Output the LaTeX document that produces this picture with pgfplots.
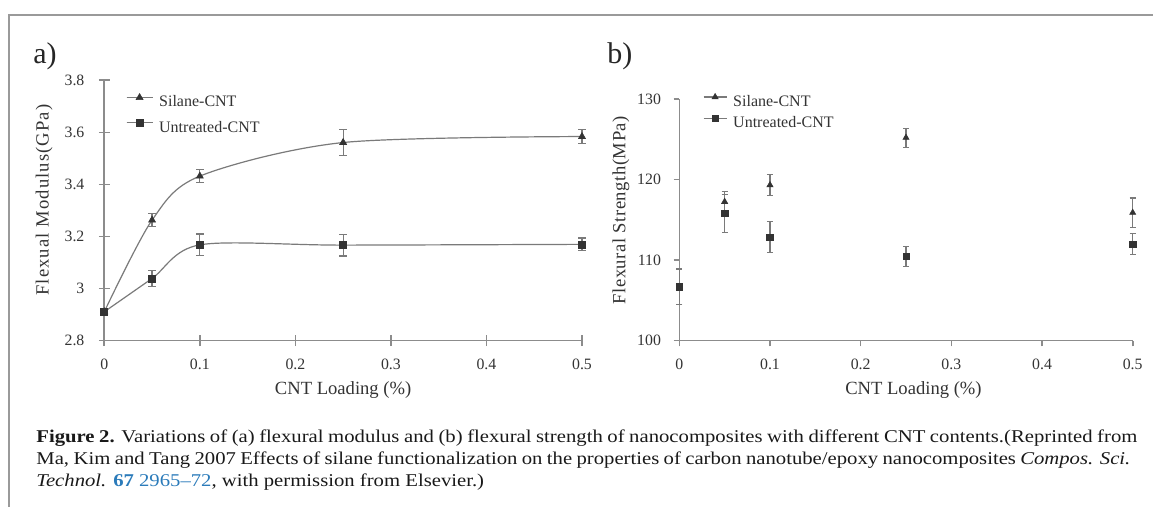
\documentclass[border=0pt]{standalone}
\usepackage{fontspec}
\setmainfont{Liberation Serif}
\newfontfamily\capfont[FakeStretch=1.15, Ligatures=TeX]{Liberation Serif}
\usepackage{pgfplots}
\usepackage{pgfplotstable}
\pgfplotsset{compat=1.18}
\definecolor{axgray}{HTML}{8C8C8C}
\definecolor{lngray}{HTML}{7A7A7A}
\definecolor{mkdark}{HTML}{333333}
\definecolor{txt}{HTML}{333333}
\definecolor{framegray}{HTML}{9A9A9A}
\definecolor{linkblue}{HTML}{2B7BBA}

\pgfplotstableread{
x     y      e
0     2.911  0
0.05  3.263  0.024
0.1   3.432  0.026
0.25  3.561  0.049
0.5   3.584  0.027
}\modsilane
\pgfplotstableread{
x     y      e
0     2.911  0.012
0.05  3.039  0.030
0.1   3.168  0.042
0.25  3.167  0.042
0.5   3.170  0.024
}\moduntreated
\pgfplotstableread{
x     y       e
0.05  117.25  1.3
0.1   119.32  1.34
0.25  125.2   1.18
0.5   115.89  1.82
}\strsilane
\pgfplotstableread{
x     y       e
0     106.7   2.21
0.05  115.8   2.35
0.1   112.87  1.9
0.25  110.47  1.24
0.5   112.0   1.28
}\struntreated

\pgfplotsset{
  panel/.style={
    scale only axis,
    clip=false,
    axis x line*=bottom, axis y line*=left,
    axis line style={axgray, line width=0.8pt, -},
    tick style={axgray, line width=0.8pt},
    xmin=0, xmax=0.5,
    xtick={0,0.1,0.2,0.3,0.4,0.5},
    xticklabels={0,0.1,0.2,0.3,0.4,0.5},
    /pgf/number format/assume math mode=true,
    label style={font=\fontsize{9.3}{11}\selectfont, text=txt},
    legend cell align=left,
    legend style={draw=none, fill=none, inner sep=0pt, outer sep=0pt,
      font=\fontsize{8}{9}\selectfont, text=txt,
      nodes={inner sep=0pt, text height=6pt, text depth=2pt}},
    every axis legend/.append style={column sep=3pt},
  },
}

\begin{document}
\begin{tikzpicture}
\useasboundingbox (0,0) rectangle (576.5pt,253.5pt);
% figure frame
\draw[framegray, line width=1pt] (4.5pt,0pt) -- (4.5pt,246pt) -- (576.5pt,246pt);
% panel labels
\node[anchor=base west, inner sep=0pt, font=\fontsize{15}{17}\selectfont, text=black!85] at (16.5pt,221.75pt) {a)};
\node[anchor=base west, inner sep=0pt, font=\fontsize{15}{17}\selectfont, text=black!85] at (303.5pt,221.75pt) {b)};

% ---------- panel a ----------
\begin{axis}[panel,
  at={(52.15pt,83.15pt)}, anchor=south west,
  width=238.85pt, height=130.2pt,
  major tick length=5.5pt, tick align=center,
  xticklabel style={font=\fontsize{7.9}{8}\selectfont, text=txt, inner sep=0pt, anchor=center, yshift=-9pt},
  yticklabel style={font=\fontsize{7.9}{8}\selectfont, text=txt, inner sep=0pt, anchor=east, xshift=-7pt},
  ymin=2.8, ymax=3.8,
  ytick={2.8,3,3.2,3.4,3.6,3.8},
  yticklabels={2.8,3,3.2,3.4,3.6,3.8},
  xlabel={CNT Loading (\%)},
  ylabel={\addfontfeature{LetterSpace=6}Flexual Modulus(GPa)},
  xlabel style={at={(axis description cs:0.5,-0.19)}, anchor=center},
  ylabel style={at={(axis description cs:-0.126,0.54)}, anchor=center},
  legend style={at={(axis description cs:0.0454,0.949)}, anchor=north west, row sep=4.3pt},
  legend image code/.code={
    \draw[lngray, line width=0.6pt] (0pt,2.6pt) -- (13pt,2.6pt);
    \draw[#1, mark repeat=2, mark phase=2] plot coordinates {(0pt,2.6pt) (6.5pt,2.6pt) (13pt,2.6pt)};
  },
]
\addplot[lngray, line width=0.6pt, smooth, tension=0.5,
  mark=triangle*, mark size=2pt, mark options={mkdark, fill=mkdark, solid, line width=0.3pt},
  error bars/.cd, y dir=both, y explicit,
  error bar style={lngray, line width=0.6pt},
  error mark options={rotate=90, lngray, mark size=1.9pt, line width=0.6pt}]
  table[x=x, y=y, y error=e] {\modsilane};
\addlegendentry{Silane-CNT}
\addplot[lngray, line width=0.6pt, smooth, tension=0.5,
  mark=square*, mark size=1.75pt, mark options={mkdark, fill=mkdark, solid, line width=0.3pt},
  error bars/.cd, y dir=both, y explicit,
  error bar style={lngray, line width=0.6pt},
  error mark options={rotate=90, lngray, mark size=1.9pt, line width=0.6pt}]
  table[x=x, y=y, y error=e] {\moduntreated};
\addlegendentry{Untreated-CNT}
\end{axis}

% ---------- panel b ----------
\begin{axis}[panel,
  at={(339.65pt,83.15pt)}, anchor=south west,
  width=226.7pt, height=120.85pt,
  tick align=outside, major tick length=2.8pt,
  xticklabel style={font=\fontsize{7.9}{8}\selectfont, text=txt, inner sep=0pt, anchor=center, yshift=-8.8pt},
  yticklabel style={font=\fontsize{7.9}{8}\selectfont, text=txt, inner sep=0pt, anchor=east, xshift=-6.2pt},
  ymin=100, ymax=130,
  ytick={100,110,120,130},
  yticklabels={100,110,120,130},
  xlabel={CNT Loading (\%)},
  ylabel={\addfontfeature{LetterSpace=3}Flexural Strength(MPa)},
  xlabel style={at={(axis description cs:0.5165,-0.204)}, anchor=center},
  ylabel style={at={(axis description cs:-0.1286,0.54)}, anchor=center},
  legend style={at={(axis description cs:0.0523,1.0227)}, anchor=north west, row sep=2.35pt},
  legend image code/.code={
    \draw[lngray, line width=0.6pt] (0pt,2.6pt) -- (11.5pt,2.6pt);
    \draw[#1, mark repeat=2, mark phase=2] plot coordinates {(0pt,2.6pt) (5.75pt,2.6pt) (11.5pt,2.6pt)};
  },
]
\addplot[only marks,
  mark=triangle*, mark size=1.75pt, mark options={mkdark, fill=mkdark, solid, line width=0.3pt},
  error bars/.cd, y dir=both, y explicit,
  error bar style={lngray, line width=0.6pt},
  error mark options={rotate=90, lngray, mark size=1.5pt, line width=0.6pt}]
  table[x=x, y=y, y error=e] {\strsilane};
\addlegendentry{Silane-CNT}
\addplot[only marks,
  mark=square*, mark size=1.6pt, mark options={mkdark, fill=mkdark, solid, line width=0.3pt},
  error bars/.cd, y dir=both, y explicit,
  error bar style={lngray, line width=0.6pt},
  error mark options={rotate=90, lngray, mark size=1.5pt, line width=0.6pt}]
  table[x=x, y=y, y error=e] {\struntreated};
\addlegendentry{Untreated-CNT}
\end{axis}

% ---------- caption ----------
\node[anchor=base west, inner sep=0pt, font=\capfont\fontsize{9}{10}\selectfont, text=black!90] at (18pt,32.3pt)
  {\makebox[550.5pt][s]{\textbf{Figure 2.} Variations of (a) flexural modulus and (b) flexural strength of nanocomposites with different CNT contents.(Reprinted from}};
\node[anchor=base west, inner sep=0pt, font=\capfont\fontsize{9}{10}\selectfont, text=black!90] at (18pt,21.3pt)
  {\makebox[547pt][s]{Ma, Kim and Tang 2007 Effects of silane functionalization on the properties of carbon nanotube/epoxy nanocomposites \textit{Compos. Sci.}}};
\node[anchor=base west, inner sep=0pt, font=\capfont\fontsize{9}{10}\selectfont, text=black!90] at (18pt,10.3pt)
  {\textit{Technol.} \textcolor{linkblue}{\textbf{67} 2965–72}, with permission from Elsevier.)};
\end{tikzpicture}
\end{document}
